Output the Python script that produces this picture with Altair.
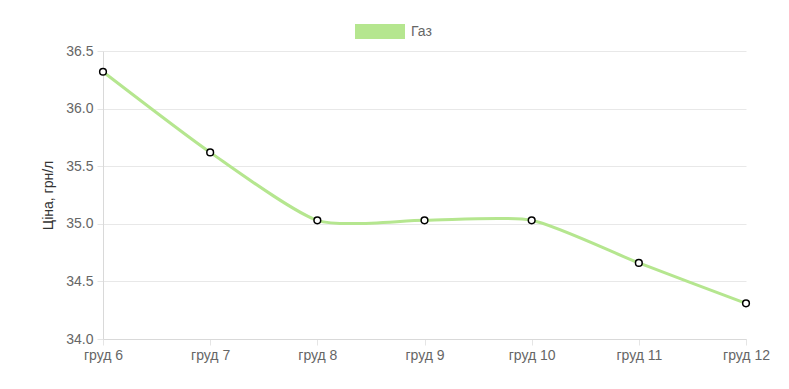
import altair as alt
import pandas as pd

days = ["груд 6", "груд 7", "груд 8", "груд 9", "груд 10", "груд 11", "груд 12"]
prices = [36.32, 35.62, 35.03, 35.03, 35.03, 34.66, 34.31]
series_name = "Газ"
y_ticks = [34.0, 34.5, 35.0, 35.5, 36.0, 36.5]

df = pd.DataFrame({"day": days, "price": prices})

GREEN = "#b5e68f"
FONT = "Liberation Sans"

x = alt.X("day:N", sort=days, scale=alt.Scale(type="point", padding=0),
          axis=alt.Axis(title=None, labelAngle=0, labelColor="#666", labelFontSize=14,
                        labelFont=FONT, grid=False, domainColor="#d9d9d9",
                        tickColor="#e5e5e5", tickSize=6, labelPadding=3))
y = alt.Y("price:Q", scale=alt.Scale(domain=[34.0, 36.5], nice=False, zero=False),
          axis=alt.Axis(title="Ціна, грн/л", values=y_ticks, format=".1f",
                        labelColor="#666", labelFontSize=14, labelFont=FONT,
                        titleFont=FONT, titleFontSize=14, titleFontWeight="normal",
                        titleColor="#333", titlePadding=10, gridColor="#e8e8e8",
                        domainColor="#d9d9d9", tickColor="#e5e5e5", tickSize=6,
                        labelPadding=4))

base = alt.Chart(df)
line = base.mark_line(interpolate="cardinal", tension=0.35, color=GREEN, strokeWidth=3).encode(x=x, y=y)
pts = base.mark_point(shape="circle", filled=True, fill="white", stroke="black",
                      strokeWidth=1.5, size=45, opacity=1).encode(x=x, y=y)

leg_df = pd.DataFrame({"name": [series_name]})
leg_box = alt.Chart(leg_df).mark_rect(color=GREEN).encode(
    x=alt.value(252), x2=alt.value(302), y=alt.value(-27), y2=alt.value(-12))
leg_txt = alt.Chart(leg_df).mark_text(align="left", baseline="middle", font=FONT,
                                      fontSize=14, color="#666").encode(
    text="name:N", x=alt.value(308), y=alt.value(-19))

chart = alt.layer(line, pts, leg_box, leg_txt).properties(
    width=643, height=288,
    autosize=alt.AutoSizeParams(type="none"),
    padding={"left": 95, "top": 43, "right": 35, "bottom": 42},
).configure_view(stroke=None)

chart.save("out.html", embed_options={"renderer": "svg", "actions": False})
